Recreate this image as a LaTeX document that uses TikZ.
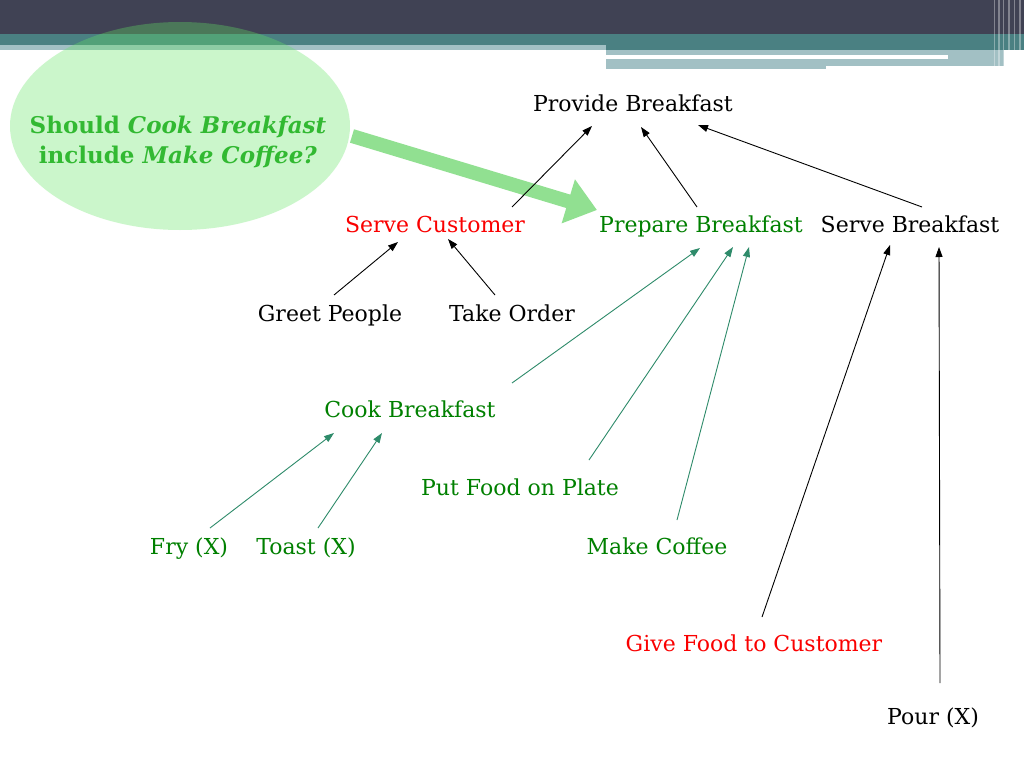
\documentclass[tikz,border=0pt]{standalone}
\usepackage{fontspec}
\setmainfont{DejaVu Serif}
\usetikzlibrary{arrows.meta,calc,shapes.geometric}
\definecolor{hdark}{RGB}{64,66,84}
\definecolor{hteal}{RGB}{74,128,130}
\definecolor{hlight}{RGB}{162,192,196}
\definecolor{tgreen}{RGB}{0,128,0}
\definecolor{tred}{RGB}{250,0,0}
\definecolor{agreen}{RGB}{46,139,106}
\definecolor{egreen}{RGB}{100,230,100}
\definecolor{qgreen}{RGB}{50,185,50}
\definecolor{bgreen}{RGB}{145,224,145}
\begin{document}
\begin{tikzpicture}[x=1pt,y=-1pt,
  lbl/.style={font=\fontsize{22}{26}\selectfont, inner sep=0pt, anchor=base},
  blk/.style={lbl,text=black},
  grn/.style={lbl,text=tgreen},
  rd/.style={lbl,text=tred},
  barr/.style={draw=black, line width=0.9pt, -{Triangle[length=10pt,width=7pt]}},
  garr/.style={draw=agreen, line width=0.9pt, -{Triangle[length=10pt,width=7pt]}},
  bigarr/.style={draw=bgreen, line width=14pt, -{Triangle[length=30pt,width=44pt]}}
]
\useasboundingbox (0,0) rectangle (1024,768);
\fill[white] (0,0) rectangle (1024,768);
% header
\fill[hdark] (0,0) rectangle (1024,34);
\fill[hteal] (0,34) rectangle (1024,45);
\fill[hlight] (0,45) rectangle (606,50);
\fill[hteal] (606,45) rectangle (1024,50);
\fill[hlight] (606,50) rectangle (1004,66);
\fill[hlight] (606,66) rectangle (826,69);
\fill[white] (606,55) rectangle (948,59);
\foreach \x/\w in {994/1,998/1.5,1003/1,1008/2,1014/1,1019/1.5}
  \fill[white,opacity=0.35] (\x,0) rectangle (\x+\w,68);
% question ellipse
\node[ellipse, fill=egreen, fill opacity=0.33, minimum width=340pt, minimum height=208pt, inner sep=0pt] (q) at (180,126) {};
\node[align=center, text=qgreen, font=\bfseries\fontsize{23}{30}\selectfont, inner sep=0pt] (qt) at (178,142) {Should \textit{Cook Breakfast}\\include \textit{Make Coffee?}};
% labels (placed on baseline)
\node[blk] (pv) at (633,111) {Provide Breakfast};
\node[rd] (sc) at (435,232) {Serve Customer};
\node[grn] (pr) at (701,232) {Prepare Breakfast};
\node[blk] (sb) at (910,232) {Serve Breakfast};
\node[blk] (gp) at (330,321) {Greet People};
\node[blk] (to) at (512,321) {Take Order};
\node[grn] (cb) at (410,417) {Cook Breakfast};
\node[grn] (pf) at (520,495) {Put Food on Plate};
\node[grn] (fry) at (189,554) {Fry (X)};
\node[grn] (tst) at (306,554) {Toast (X)};
\node[grn] (mc) at (657,554) {Make Coffee};
\node[rd] (gf) at (754,651) {Give Food to Customer};
\node[blk] (pour) at (933,724) {Pour (X)};
% big arrow
\draw[bigarr] ($(q)+(172,10)$) -- ($(pr.base)+(-104,-22)$);
% black connectors
\draw[barr] ($(sc.base)+(77,-25)$) -- ($(pv.base)+(-41,15)$);
\draw[barr] ($(pr.base)+(-4,-25)$) -- ($(pv.base)+(8,16)$);
\draw[barr] ($(sb.base)+(12,-25)$) -- ($(pv.base)+(65,14)$);
\draw[barr] ($(gp.base)+(4,-26)$) -- ($(sc.base)+(-37,10)$);
\draw[barr] ($(to.base)+(-17,-26)$) -- ($(sc.base)+(13,7)$);
\draw[barr] ($(gf.base)+(8,-34)$) -- ($(sb.base)+(-20,13)$);
\draw[barr] ($(pour.base)+(7,-41)$) -- ($(sb.base)+(29,15)$);
% green connectors
\draw[garr] ($(cb.base)+(102,-34)$) -- ($(pr.base)+(-1,16)$);
\draw[garr] ($(pf.base)+(69,-35)$) -- ($(pr.base)+(32,15)$);
\draw[garr] ($(mc.base)+(20,-34)$) -- ($(pr.base)+(48,15)$);
\draw[garr] ($(fry.base)+(21,-26)$) -- ($(cb.base)+(-76,16)$);
\draw[garr] ($(tst.base)+(12,-26)$) -- ($(cb.base)+(-28,16)$);
\end{tikzpicture}
\end{document}
